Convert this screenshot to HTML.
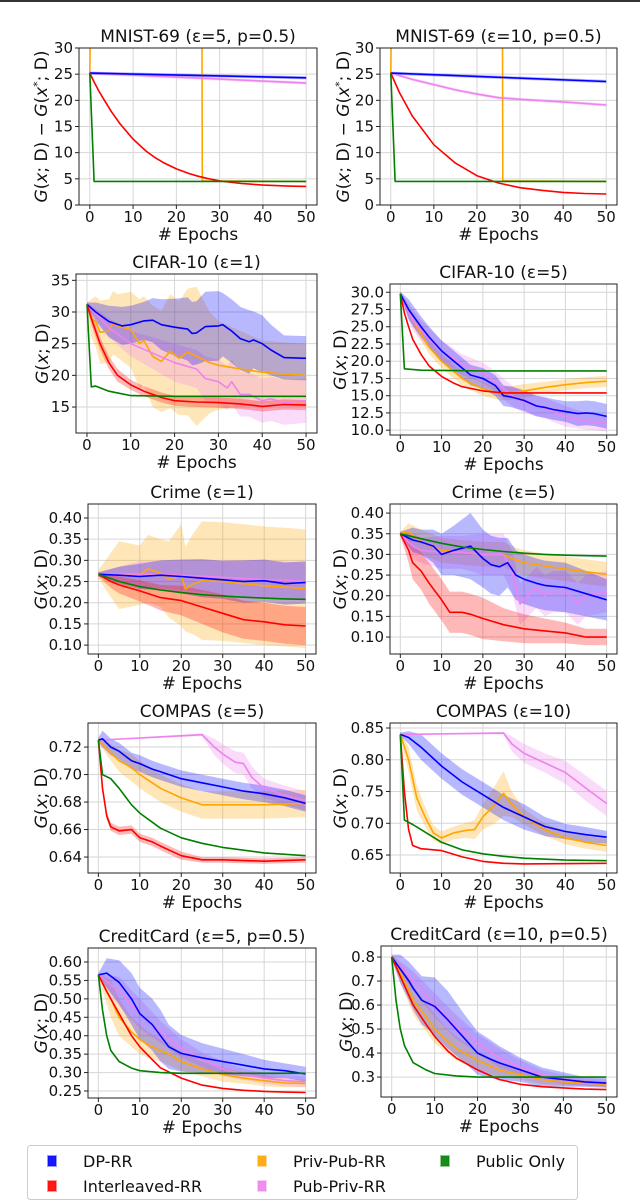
<!DOCTYPE html>
<html><head><meta charset="utf-8">
<style>
html,body{margin:0;padding:0;background:#fff;}
svg{display:block;font-family:"DejaVu Sans","Liberation Sans",sans-serif;}
</style></head>
<body>
<svg id="chart" width="640" height="1204" viewBox="0 0 640 1204" xmlns="http://www.w3.org/2000/svg">
<rect x="0" y="0" width="640" height="1204" fill="#fff"/>
<line x1="0" y1="1" x2="640" y2="1" stroke="#333" stroke-width="2"/>
</svg>
<script>
// ---------------- data ----------------
const epochTicks = [0,10,20,30,40,50];
const seriesColors = {dp:'#0000ff', inter:'#ff0000', privpub:'#ffa500', pubpriv:'#ee82ee', pub:'#008000'};
const drawOrder = ['privpub','pubpriv','dp','inter','pub'];

// MNIST eps=5
const m5_dp_x=[0,50], m5_dp_y=[25.2,24.3], m5_dp_b=[0.3,0.3];
const m5_pp_x=[0,50], m5_pp_y=[25.2,23.3], m5_pp_b=[0.3,0.3];
const m5_in_x=[0,1,2,3,5,7,10,13,15,17,20,23,25,27,30,33,35,37,40,43,45,47,50];
const m5_in_y=[25.2,23.5,21.9,20.5,17.8,15.5,12.6,10.3,9.1,8.1,6.9,6.0,5.5,5.1,4.6,4.3,4.1,4.0,3.8,3.7,3.65,3.6,3.55];
const m5_pu_x=[0,1,50], m5_pu_y=[25.2,4.5,4.5];
const m5_or_x=[0,0.2,25.9,26,50], m5_or_y=[25,40,40,4.6,4.5];
// MNIST eps=10
const m10_dp_x=[0,50], m10_dp_y=[25.2,23.6], m10_dp_b=[0.3,0.3];
const m10_pp_x=[0,5,10,15,20,25,30,40,50], m10_pp_y=[25.2,24,23,22,21.2,20.5,20.2,19.7,19.1], m10_pp_b=[0.2,0.3,0.3,0.3,0.3,0.3,0.3,0.3,0.3];
const m10_in_x=[0,2,5,10,15,20,25,30,35,40,45,50], m10_in_y=[25.2,21.5,17,11.5,8,5.6,4.2,3.3,2.8,2.4,2.2,2.1];
const m10_pu_x=[0,1,50], m10_pu_y=[25.2,4.5,4.5];
const m10_or_x=[0,0.2,25.9,26,50], m10_or_y=[25,40,40,4.6,4.5];
// CIFAR eps=1
const c1_dp_x=[0,2,5,8,10,13,15,17,20,23,24,25,27,30,31,33,35,37,38,40,42,45,50];
const c1_dp_y=[31.2,30,28.5,27.8,28,28.6,28.7,28,27.6,27.3,26.6,26.7,27.7,27.8,28,27,25.8,25.3,25.6,25,24,22.8,22.7];
const c1_dp_b=[0.3,1.5,2.5,3,3,3,3.5,4,4.5,5,5,5,5.5,5.5,5,5,5,5,4.5,4.5,4,3.5,3.5];
const c1_or_x=[0,1,2,3,5,6,7,10,12,13,15,17,19,21,23,25,28,30,35,40,45,50];
const c1_or_y=[31.2,29,28.5,26.8,27,28.3,27.8,27.2,25,25.5,23,22.2,23.8,22.7,23.7,23,22,21.6,21,20.5,20.2,20];
const c1_or_b=[0.3,3,4,5,5,5,5,6,7,7,8,8,9,9,10,11,8,7,6,5,5,5];
const c1_pp_x=[0,5,10,15,20,25,27,30,32,33,35,37,40,42,45,50];
const c1_pp_y=[31.2,27.5,25,23.5,22,21,19.5,19,18,19,17,17,16,16.3,15.7,16];
const c1_pp_b=[0.3,1.5,2,2.5,3,3,3.5,3.5,3.5,3.5,3.5,3.5,3.5,3.5,3.5,3.5];
const c1_in_x=[0,1,2,3,5,7,10,13,15,17,20,25,30,35,40,45,50];
const c1_in_y=[31.2,29,27,25,22,20,18.5,17.5,17,16.5,16,15.8,15.7,15.5,15.1,15.4,15.3];
const c1_in_b=[0.3,1,1,1,1,1,0.8,0.8,0.8,0.8,0.8,0.8,0.8,0.8,0.8,0.8,0.8];
const c1_pu_x=[0,1,2,5,10,20,50], c1_pu_y=[31.2,18.2,18.3,17.5,16.8,16.7,16.7];
// CIFAR eps=5
const c5_dp_x=[0,2,5,7,10,13,15,17,20,23,25,27,30,33,35,37,40,43,45,47,50];
const c5_dp_y=[29.8,27.5,25,23.5,21.5,20,19,18,17.5,16.5,15,14.8,14.3,13.5,13.3,13,12.7,12.4,12.5,12.4,12];
const c5_dp_b=[0.3,1.5,1.5,1.5,1.5,1.5,1.5,1.5,1.5,1.5,1.5,1.5,1.5,1.5,1.5,1.5,1.5,1.8,1.8,1.8,1.8];
const c5_or_x=[0,3,5,7,10,13,15,17,20,23,25,27,30,35,40,45,50];
const c5_or_y=[29.8,26,24,22,20,18.5,17.5,16.8,16,15.5,15.3,15.4,15.7,16.2,16.6,16.9,17.1];
const c5_or_b=[0.3,1,1,1,1,1,1,1,1,1,1,1,1,0.8,0.8,0.8,0.8];
const c5_pp_x=[0,3,5,10,15,20,22,25,27,30,35,40,45,50];
const c5_pp_y=[29.8,26,24.5,21.5,19.5,18.3,17.5,16,15,14,13.2,12,11.3,11];
const c5_pp_b=[0.3,1.5,1.5,1.5,1.5,1.5,1.5,1.5,1.5,1.5,1.5,1.5,1.2,1.2];
const c5_in_x=[0,1,2,3,5,7,10,13,15,20,25,30,50], c5_in_y=[29.8,27,25,23.2,21,19.3,17.8,16.8,16.3,15.7,15.4,15.4,15.4];
const c5_pu_x=[0,1,5,20,50], c5_pu_y=[29.8,18.9,18.7,18.6,18.6];
// Crime eps=1
const r1_dp_x=[0,5,10,15,20,25,30,35,40,45,50], r1_dp_y=[0.267,0.265,0.262,0.265,0.262,0.258,0.254,0.25,0.252,0.245,0.248];
const r1_dp_b=[0.005,0.02,0.03,0.035,0.04,0.045,0.045,0.05,0.05,0.05,0.05];
const r1_or_x=[0,5,10,12,15,17,20,21,23,25,30,35,40,45,50];
const r1_or_y=[0.267,0.265,0.265,0.28,0.27,0.255,0.265,0.232,0.245,0.252,0.25,0.245,0.24,0.237,0.233];
const r1_or_b=[0.01,0.08,0.07,0.08,0.08,0.09,0.12,0.1,0.12,0.14,0.14,0.14,0.14,0.14,0.14];
const r1_pp_x=[0,10,20,30,40,50], r1_pp_y=[0.267,0.268,0.265,0.26,0.255,0.25], r1_pp_b=[0.005,0.03,0.035,0.04,0.045,0.045];
const r1_in_x=[0,3,5,10,15,20,25,30,35,40,45,50], r1_in_y=[0.267,0.25,0.242,0.228,0.212,0.205,0.19,0.175,0.16,0.155,0.148,0.145];
const r1_in_b=[0.005,0.015,0.02,0.025,0.03,0.035,0.04,0.045,0.045,0.045,0.045,0.045];
const r1_pu_x=[0,5,10,15,20,25,30,35,40,45,50], r1_pu_y=[0.267,0.25,0.238,0.23,0.224,0.219,0.216,0.213,0.211,0.209,0.208];
// Crime eps=5
const r5_dp_x=[0,3,5,8,10,13,15,17,20,22,24,26,28,30,33,35,40,45,50];
const r5_dp_y=[0.35,0.335,0.33,0.32,0.3,0.31,0.315,0.32,0.29,0.275,0.27,0.28,0.25,0.24,0.23,0.225,0.22,0.205,0.19];
const r5_dp_b=[0.005,0.03,0.03,0.04,0.05,0.06,0.07,0.08,0.07,0.07,0.07,0.06,0.06,0.06,0.06,0.06,0.06,0.055,0.05];
const r5_or_x=[0,2,5,10,15,20,25,27,30,35,40,45,50], r5_or_y=[0.35,0.355,0.33,0.31,0.305,0.3,0.3,0.29,0.28,0.272,0.265,0.258,0.252];
const r5_or_b=[0.005,0.02,0.03,0.03,0.03,0.03,0.03,0.03,0.03,0.03,0.03,0.03,0.03];
const r5_pp_x=[0,3,5,10,15,20,25,27,29,31,33,35,37,40,43,45,50];
const r5_pp_y=[0.35,0.32,0.31,0.305,0.305,0.3,0.3,0.26,0.18,0.2,0.22,0.2,0.21,0.21,0.18,0.2,0.21];
const r5_pp_b=[0.005,0.03,0.03,0.04,0.04,0.05,0.05,0.05,0.05,0.05,0.05,0.05,0.05,0.05,0.05,0.05,0.05];
const r5_in_x=[0,2,3,5,7,10,12,15,17,20,25,30,35,40,45,50];
const r5_in_y=[0.35,0.31,0.28,0.26,0.23,0.19,0.16,0.16,0.155,0.145,0.13,0.12,0.115,0.11,0.1,0.1];
const r5_in_b=[0.005,0.03,0.04,0.045,0.05,0.05,0.05,0.05,0.05,0.05,0.04,0.035,0.03,0.025,0.02,0.02];
const r5_pu_x=[0,5,10,15,20,25,30,35,40,45,50], r5_pu_y=[0.35,0.338,0.327,0.318,0.312,0.307,0.303,0.3,0.298,0.297,0.296];
// COMPAS eps=5
const p5_dp_x=[0,1,3,5,8,10,13,15,20,25,30,35,40,45,50], p5_dp_y=[0.725,0.726,0.72,0.717,0.71,0.708,0.704,0.702,0.697,0.694,0.691,0.688,0.686,0.683,0.679];
const p5_dp_b=[0.002,0.006,0.006,0.006,0.006,0.006,0.006,0.006,0.006,0.006,0.006,0.006,0.006,0.006,0.006];
const p5_or_x=[0,3,5,8,10,13,15,20,25,30,40,50], p5_or_y=[0.725,0.716,0.71,0.705,0.7,0.694,0.69,0.683,0.678,0.678,0.678,0.679];
const p5_or_b=[0.002,0.006,0.008,0.01,0.01,0.01,0.01,0.01,0.01,0.01,0.01,0.01];
const p5_pp_x=[0,25,28,30,33,35,37,40,45,50], p5_pp_y=[0.725,0.729,0.72,0.715,0.709,0.708,0.698,0.69,0.685,0.681];
const p5_pp_b=[0,0.001,0.006,0.007,0.008,0.008,0.008,0.007,0.007,0.007];
const p5_in_x=[0,1,2,3,5,8,10,13,15,20,25,30,40,50], p5_in_y=[0.725,0.69,0.67,0.662,0.659,0.66,0.654,0.651,0.648,0.641,0.638,0.638,0.637,0.638];
const p5_in_b=[0.001,0.003,0.003,0.003,0.003,0.003,0.003,0.003,0.003,0.003,0.002,0.002,0.002,0.002];
const p5_pu_x=[0,1,3,5,8,10,15,20,25,30,40,50], p5_pu_y=[0.725,0.7,0.697,0.69,0.678,0.672,0.661,0.654,0.65,0.647,0.643,0.641];
// COMPAS eps=10
const p10_dp_x=[0,2,5,10,15,20,25,30,35,40,45,50], p10_dp_y=[0.84,0.835,0.82,0.79,0.765,0.745,0.725,0.71,0.695,0.687,0.682,0.678];
const p10_dp_b=[0.003,0.01,0.02,0.02,0.02,0.02,0.02,0.02,0.015,0.012,0.012,0.01];
const p10_or_x=[0,2,4,6,8,10,13,16,18,20,23,25,27,30,35,40,45,50];
const p10_or_y=[0.84,0.8,0.74,0.71,0.685,0.677,0.685,0.689,0.69,0.71,0.73,0.747,0.73,0.71,0.69,0.677,0.67,0.665];
const p10_or_b=[0.003,0.02,0.02,0.015,0.012,0.01,0.01,0.012,0.015,0.02,0.03,0.035,0.02,0.012,0.01,0.01,0.01,0.01];
const p10_pp_x=[0,25,27,30,35,40,45,50], p10_pp_y=[0.84,0.842,0.825,0.81,0.795,0.78,0.755,0.731];
const p10_pp_b=[0,0.002,0.012,0.015,0.015,0.018,0.02,0.02];
const p10_in_x=[0,1,2,3,5,10,15,20,25,30,50], p10_in_y=[0.84,0.75,0.69,0.665,0.66,0.657,0.647,0.64,0.637,0.636,0.637];
const p10_pu_x=[0,1,3,5,10,15,20,25,30,40,50], p10_pu_y=[0.84,0.705,0.698,0.69,0.67,0.658,0.652,0.648,0.645,0.642,0.641];
// CreditCard eps=5
const k5_dp_x=[0,2,5,8,10,13,15,17,20,25,30,35,40,45,50], k5_dp_y=[0.565,0.57,0.545,0.5,0.46,0.43,0.4,0.37,0.352,0.34,0.33,0.32,0.31,0.305,0.296];
const k5_dp_b=[0.005,0.04,0.06,0.07,0.07,0.07,0.07,0.06,0.05,0.04,0.035,0.03,0.025,0.02,0.02];
const k5_or_x=[0,3,5,8,10,12,15,17,20,25,30,35,40,45,50], k5_or_y=[0.565,0.5,0.45,0.41,0.39,0.375,0.36,0.35,0.33,0.31,0.295,0.285,0.278,0.272,0.27];
const k5_or_b=[0.005,0.05,0.05,0.04,0.04,0.035,0.03,0.03,0.025,0.02,0.02,0.015,0.015,0.012,0.01];
const k5_pp_x=[0,5,10,15,20,25,30,35,40,45,50], k5_pp_y=[0.565,0.52,0.46,0.41,0.365,0.335,0.31,0.295,0.285,0.278,0.275];
const k5_pp_b=[0.005,0.04,0.04,0.03,0.025,0.02,0.02,0.015,0.015,0.015,0.015];
const k5_in_x=[0,2,5,8,10,13,15,20,25,30,35,40,45,50], k5_in_y=[0.565,0.52,0.46,0.4,0.37,0.335,0.313,0.285,0.266,0.257,0.252,0.249,0.247,0.246];
const k5_pu_x=[0,1,2,3,5,8,10,15,20,50], k5_pu_y=[0.565,0.47,0.4,0.36,0.33,0.312,0.305,0.3,0.298,0.298];
// CreditCard eps=10
const k10_dp_x=[0,2,4,5,7,10,13,15,17,20,23,25,30,35,40,45,50], k10_dp_y=[0.8,0.75,0.7,0.67,0.62,0.595,0.54,0.5,0.46,0.4,0.375,0.36,0.33,0.3,0.29,0.28,0.275];
const k10_dp_b=[0.01,0.06,0.08,0.09,0.1,0.12,0.12,0.11,0.1,0.09,0.08,0.07,0.05,0.04,0.03,0.02,0.02];
const k10_or_x=[0,3,5,8,10,13,15,20,25,30,35,40,50], k10_or_y=[0.8,0.7,0.62,0.55,0.5,0.45,0.42,0.37,0.33,0.31,0.29,0.28,0.27];
const k10_or_b=[0.01,0.05,0.06,0.06,0.06,0.05,0.05,0.04,0.03,0.02,0.02,0.015,0.01];
const k10_pp_x=[0,5,10,15,20,25,30,35,40,45,50], k10_pp_y=[0.8,0.7,0.6,0.51,0.44,0.38,0.34,0.31,0.29,0.28,0.275];
const k10_pp_b=[0.01,0.04,0.05,0.05,0.04,0.04,0.03,0.02,0.02,0.015,0.015];
const k10_in_x=[0,3,5,8,10,13,15,20,25,30,35,40,45,50], k10_in_y=[0.8,0.68,0.6,0.52,0.47,0.41,0.38,0.33,0.29,0.27,0.26,0.255,0.25,0.248];
const k10_pu_x=[0,1,2,3,5,8,10,15,20,50], k10_pu_y=[0.8,0.62,0.5,0.43,0.36,0.33,0.315,0.305,0.3,0.3];

// tick label arrays
const yt_m=['0','5','10','15','20','25','30'];
const yt_c1=['15','20','25','30','35'];
const yt_c5=['10.0','12.5','15.0','17.5','20.0','22.5','25.0','27.5','30.0'];
const yt_r=['0.10','0.15','0.20','0.25','0.30','0.35','0.40'];
const yt_p5=['0.64','0.66','0.68','0.70','0.72'];
const yt_p10=['0.65','0.70','0.75','0.80','0.85'];
const yt_k5=['0.25','0.30','0.35','0.40','0.45','0.50','0.55','0.60'];
const yt_k10=['0.3','0.4','0.5','0.6','0.7','0.8'];

const legendLabels=[['dp','DP-RR'],['inter','Interleaved-RR'],['privpub','Priv-Pub-RR'],['pubpriv','Pub-Priv-RR'],['pub','Public Only']];

// ---------------- layout ----------------
const panels=[
 {name:'mnist-eps5',title:'MNIST-69 (ε=5, p=0.5)',box:[79,48,317,205],ylim:[0,30],yt:yt_m,ylab:'diff',ylx:41,
  s:{privpub:[m5_or_x,m5_or_y],pubpriv:[m5_pp_x,m5_pp_y,m5_pp_b],dp:[m5_dp_x,m5_dp_y,m5_dp_b],inter:[m5_in_x,m5_in_y],pub:[m5_pu_x,m5_pu_y]}},
 {name:'mnist-eps10',title:'MNIST-69 (ε=10, p=0.5)',box:[380,48,617,205],ylim:[0,30],yt:yt_m,ylab:'diff',ylx:343,
  s:{privpub:[m10_or_x,m10_or_y],pubpriv:[m10_pp_x,m10_pp_y,m10_pp_b],dp:[m10_dp_x,m10_dp_y,m10_dp_b],inter:[m10_in_x,m10_in_y],pub:[m10_pu_x,m10_pu_y]}},
 {name:'cifar-eps1',title:'CIFAR-10 (ε=1)',box:[76,274,317,433],ylim:[10.9,36.0],yt:yt_c1,ylab:'g',ylx:42,
  s:{privpub:[c1_or_x,c1_or_y,c1_or_b],pubpriv:[c1_pp_x,c1_pp_y,c1_pp_b],dp:[c1_dp_x,c1_dp_y,c1_dp_b],inter:[c1_in_x,c1_in_y,c1_in_b],pub:[c1_pu_x,c1_pu_y]}},
 {name:'cifar-eps5',title:'CIFAR-10 (ε=5)',box:[390,284,617,435],ylim:[9.3,31.2],yt:yt_c5,ylab:'g',ylx:340,
  s:{privpub:[c5_or_x,c5_or_y,c5_or_b],pubpriv:[c5_pp_x,c5_pp_y,c5_pp_b],dp:[c5_dp_x,c5_dp_y,c5_dp_b],inter:[c5_in_x,c5_in_y],pub:[c5_pu_x,c5_pu_y]}},
 {name:'crime-eps1',title:'Crime (ε=1)',box:[88,504,316,654],ylim:[0.079,0.433],yt:yt_r,ylab:'g',ylx:41,
  s:{privpub:[r1_or_x,r1_or_y,r1_or_b],pubpriv:[r1_pp_x,r1_pp_y,r1_pp_b],dp:[r1_dp_x,r1_dp_y,r1_dp_b],inter:[r1_in_x,r1_in_y,r1_in_b],pub:[r1_pu_x,r1_pu_y]}},
 {name:'crime-eps5',title:'Crime (ε=5)',box:[390,504,617,654],ylim:[0.059,0.422],yt:yt_r,ylab:'g',ylx:340,
  s:{privpub:[r5_or_x,r5_or_y,r5_or_b],pubpriv:[r5_pp_x,r5_pp_y,r5_pp_b],dp:[r5_dp_x,r5_dp_y,r5_dp_b],inter:[r5_in_x,r5_in_y,r5_in_b],pub:[r5_pu_x,r5_pu_y]}},
 {name:'compas-eps5',title:'COMPAS (ε=5)',box:[88,723,316,873],ylim:[0.6284,0.7375],yt:yt_p5,ylab:'g',ylx:41,
  s:{privpub:[p5_or_x,p5_or_y,p5_or_b],pubpriv:[p5_pp_x,p5_pp_y,p5_pp_b],dp:[p5_dp_x,p5_dp_y,p5_dp_b],inter:[p5_in_x,p5_in_y,p5_in_b],pub:[p5_pu_x,p5_pu_y]}},
 {name:'compas-eps10',title:'COMPAS (ε=10)',box:[390,723,617,873],ylim:[0.6217,0.8579],yt:yt_p10,ylab:'g',ylx:340,
  s:{privpub:[p10_or_x,p10_or_y,p10_or_b],pubpriv:[p10_pp_x,p10_pp_y,p10_pp_b],dp:[p10_dp_x,p10_dp_y,p10_dp_b],inter:[p10_in_x,p10_in_y],pub:[p10_pu_x,p10_pu_y]}},
 {name:'creditcard-eps5',title:'CreditCard (ε=5, p=0.5)',box:[88,948,316,1098],ylim:[0.231,0.638],yt:yt_k5,ylab:'g',ylx:41,
  s:{privpub:[k5_or_x,k5_or_y,k5_or_b],pubpriv:[k5_pp_x,k5_pp_y,k5_pp_b],dp:[k5_dp_x,k5_dp_y,k5_dp_b],inter:[k5_in_x,k5_in_y],pub:[k5_pu_x,k5_pu_y]}},
 {name:'creditcard-eps10',title:'CreditCard (ε=10, p=0.5)',box:[381,946,617,1097],ylim:[0.217,0.846],yt:yt_k10,ylab:'g',ylx:346,
  s:{privpub:[k10_or_x,k10_or_y,k10_or_b],pubpriv:[k10_pp_x,k10_pp_y,k10_pp_b],dp:[k10_dp_x,k10_dp_y,k10_dp_b],inter:[k10_in_x,k10_in_y],pub:[k10_pu_x,k10_pu_y]}}
];

const NS='http://www.w3.org/2000/svg';
const svg=document.getElementById('chart');
function mk(tag,attrs,parent){const e=document.createElementNS(NS,tag);for(const k in attrs)e.setAttribute(k,attrs[k]);(parent||svg).appendChild(e);return e;}

panels.forEach((p,pi)=>{
  const [x0,y0,x1,y1]=p.box;
  const g=mk('g',{});
  
  
  const xs=v=>x0+(v+2.5)/55*(x1-x0);
  const ys=v=>y1-(v-p.ylim[0])/(p.ylim[1]-p.ylim[0])*(y1-y0);
  const cid='clip'+pi;
  const cp=mk('clipPath',{id:cid},g);mk('rect',{x:x0,y:y0,width:x1-x0,height:y1-y0},cp);
  epochTicks.forEach(t=>{const l=mk('line',{x1:xs(t),x2:xs(t),y1:y0,y2:y1,stroke:'#d6d6d6','stroke-width':1},g);
    });
  p.yt.forEach(t=>{const v=parseFloat(t);const l=mk('line',{x1:x0,x2:x1,y1:ys(v),y2:ys(v),stroke:'#d6d6d6','stroke-width':1},g);
    });
  const pg=mk('g',{'clip-path':'url(#'+cid+')'},g);
  drawOrder.forEach(k=>{const s=p.s[k];if(!s||!s[2])return;const [X,Y,B]=s;
    let d='M';for(let i=0;i<X.length;i++)d+=xs(X[i]).toFixed(1)+','+ys(Y[i]+B[i]).toFixed(1)+' L';
    for(let i=X.length-1;i>=0;i--)d+=xs(X[i]).toFixed(1)+','+ys(Y[i]-B[i]).toFixed(1)+(i?' L':' Z');
    const b=mk('path',{d:d,fill:seriesColors[k],'fill-opacity':0.28,stroke:'none'},pg);
    });
  drawOrder.forEach(k=>{const s=p.s[k];if(!s)return;const [X,Y]=s;
    const pts=X.map((v,i)=>xs(v).toFixed(1)+','+ys(Y[i]).toFixed(1)).join(' ');
    const l=mk('polyline',{points:pts,fill:'none',stroke:seriesColors[k],'stroke-width':1.6,'stroke-linejoin':'round'},pg);
    });
  const fr=mk('rect',{x:x0,y:y0,width:x1-x0,height:y1-y0,fill:'none',stroke:'#222','stroke-width':1},g);
  
  epochTicks.forEach(t=>{mk('line',{x1:xs(t),x2:xs(t),y1:y1,y2:y1+4,stroke:'#222'},g);
    const tx=mk('text',{x:xs(t),y:y1+17,'font-size':15,'text-anchor':'middle',fill:'#111'},g);tx.textContent=t;
    });
  p.yt.forEach(t=>{const v=parseFloat(t);mk('line',{x1:x0-4,x2:x0,y1:ys(v),y2:ys(v),stroke:'#222'},g);
    const tx=mk('text',{x:x0-6,y:ys(v)+5,'font-size':15,'text-anchor':'end',fill:'#111'},g);tx.textContent=t;
    });
  const xl=mk('text',{x:(x0+x1)/2,y:y1+35,'font-size':17,'text-anchor':'middle',fill:'#111'},g);xl.textContent='# Epochs';
  
  const ti=mk('text',{x:(x0+x1)/2,y:y0-6,'font-size':17,'text-anchor':'middle',fill:'#111'},g);ti.textContent=p.title;
  
  const cy=(y0+y1)/2;
  const yl=mk('text',{x:p.ylx,y:cy,'font-size':17,'text-anchor':'middle',fill:'#111',transform:'rotate(-90 '+p.ylx+' '+cy+') translate(0 6)'},g);
  
  if(p.ylab==='diff') yl.innerHTML='<tspan font-style="italic">G</tspan>(<tspan font-style="italic">x</tspan>; D) − <tspan font-style="italic">G</tspan>(<tspan font-style="italic">x</tspan><tspan dy="-6" font-size="11">*</tspan><tspan dy="6">; D)</tspan>';
  else yl.innerHTML='<tspan font-style="italic">G</tspan>(<tspan font-style="italic">x</tspan>; D)';
});

// legend
const lg=mk('g',{});


mk('rect',{x:27.5,y:1145.5,width:550,height:54,rx:3,fill:'#fff',stroke:'#ccc'},lg);
const legPos=[[52,1161],[52,1186],[262,1161],[262,1186],[445,1161]];
legendLabels.forEach(([k,lab],i)=>{const [mx,my]=legPos[i];
  const e=mk('g',{},lg);
  
  
  mk('rect',{x:mx-4,y:my-5,width:8,height:10,fill:seriesColors[k],'fill-opacity':0.9,stroke:seriesColors[k],'stroke-opacity':0.4,'stroke-width':2},e);
  const t=mk('text',{x:mx+31,y:my+6,'font-size':16,fill:'#111'},e);t.textContent=lab;});
</script>
</body></html>
